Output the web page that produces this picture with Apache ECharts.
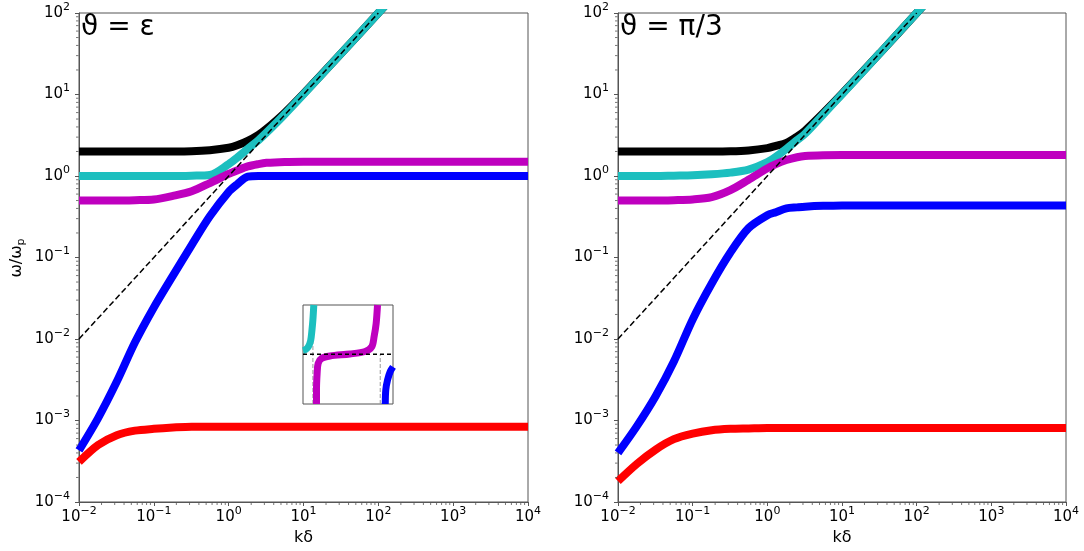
<!DOCTYPE html>
<html><head><meta charset="utf-8">
<script src="https://cdn.jsdelivr.net/npm/echarts@6.0.0/dist/echarts.min.js"></script>
<style>html,body{margin:0;padding:0;background:#fff}#c{width:1084px;height:551px}</style>
</head><body><div id="c"></div>
<script>
const FONT = 'DejaVu Sans';
// k*delta sample points (shared by all curves of the two main panels)
const K = [0.01, 0.018, 0.032, 0.056, 0.1, 0.18, 0.32, 0.56, 1, 1.3, 1.8, 2.5, 3.2, 5.6, 10, 32, 100, 1000, 10000];

// theta = epsilon (left panel), omega/omega_p
const blackL   = [2, 2, 2, 2, 2, 2, 2.01, 2.07, 2.22, 2.38, 2.7, 3.2, 3.78, 5.95, 10.2, 32, 100, 1000, 10000];
const cyanL    = [1, 1, 1, 1, 1, 1, 1.01, 1.03, 1.4, 1.68, 2.15, 2.75, 3.4, 5.7, 10.05, 32, 100, 1000, 10000];
const magentaL = [0.5, 0.5, 0.5, 0.505, 0.515, 0.57, 0.65, 0.82, 1.06, 1.17, 1.31, 1.4, 1.45, 1.49, 1.5, 1.5, 1.5, 1.5, 1.5];
const blueL    = [4.3e-4, 1.07e-3, 3.0e-3, 9.1e-3, 0.0244, 0.060, 0.142, 0.32, 0.64, 0.79, 0.98, 1, 1, 1, 1, 1, 1, 1, 1];
const redL     = [3.1e-4, 5.0e-4, 6.6e-4, 7.5e-4, 7.9e-4, 8.2e-4, 8.4e-4, 8.4e-4, 8.4e-4, 8.4e-4, 8.4e-4, 8.4e-4, 8.4e-4, 8.4e-4, 8.4e-4, 8.4e-4, 8.4e-4, 8.4e-4, 8.4e-4];

// theta = pi/3 (right panel)
const blackR   = [2, 2, 2, 2, 2, 2, 2.01, 2.06, 2.2, 2.34, 2.55, 3.05, 3.6, 5.9, 10.2, 32, 100, 1000, 10000];
const cyanR    = [1, 1, 1, 1.01, 1.02, 1.05, 1.1, 1.2, 1.48, 1.72, 2.15, 2.75, 3.3, 5.7, 10.05, 32, 100, 1000, 10000];
const magentaR = [0.5, 0.5, 0.5, 0.505, 0.515, 0.55, 0.67, 0.9, 1.24, 1.4, 1.57, 1.7, 1.76, 1.8, 1.81, 1.81, 1.81, 1.81, 1.81];
const blueR    = [4.0e-4, 8.6e-4, 2.0e-3, 5.3e-3, 0.0174, 0.048, 0.115, 0.229, 0.33, 0.36, 0.40, 0.412, 0.42, 0.43, 0.435, 0.436, 0.436, 0.436, 0.436];
const redR     = [1.8e-4, 2.95e-4, 4.4e-4, 5.9e-4, 6.9e-4, 7.6e-4, 7.9e-4, 8.0e-4, 8.1e-4, 8.1e-4, 8.1e-4, 8.1e-4, 8.1e-4, 8.1e-4, 8.1e-4, 8.1e-4, 8.1e-4, 8.1e-4, 8.1e-4];

// light-line asymptote omega = k
const asymK = [0.01, 100];
const asymW = [0.01, 100];

// inset (normalised coordinates 0..1)
const inCyanU = [0, 0.03, 0.06, 0.085, 0.1, 0.11, 0.12];
const inCyanV = [0.54, 0.55, 0.58, 0.64, 0.75, 0.85, 1.0];
const inMagU  = [0.15, 0.15, 0.157, 0.168, 0.205, 0.3, 0.52, 0.69, 0.765, 0.79, 0.813, 0.828];
const inMagV  = [0, 0.144, 0.31, 0.41, 0.46, 0.485, 0.505, 0.53, 0.58, 0.68, 0.815, 1.0];
const inBlueU = [0.914, 0.92, 0.94, 0.97, 1.0];
const inBlueV = [0, 0.144, 0.245, 0.33, 0.375];
const inHorizU = [0, 1];
const inHorizV = [0.503, 0.503];
const inVert1U = [0.11, 0.11];
const inVert1V = [0, 1];
const inVert2U = [0.858, 0.858];
const inVert2V = [0, 0.5];

// tick decoration (minor ticks of the log axes)
const minorMant = [2, 3, 4, 5, 6, 7, 8, 9];
const xDecadeStarts = [0.01, 0.1, 1, 10, 100, 1000];
const yDecadeStarts = [1e-4, 1e-3, 0.01, 0.1, 1, 10];
const titles = ['ϑ = ε', 'ϑ = π/3'];
const xName = 'kδ';

const minorX = [];
xDecadeStarts.forEach(d => minorMant.forEach(m => minorX.push(m * d)));
const minorY = [];
yDecadeStarts.forEach(d => minorMant.forEach(m => minorY.push(m * d)));

const pair = (xs, ys) => xs.map((x, i) => [x, ys[i]]);
const SPINE = '#555';

function supFmt(v) {
  const e = Math.round(Math.log10(v));
  return '{b|10}{s|' + (e < 0 ? '\u2212' + (-e) : e) + '}';
}
const tickRich = {
  b: { fontSize: 15, fontFamily: FONT, color: '#000' },
  s: { fontSize: 11, fontFamily: FONT, color: '#000', padding: [0, 0, 12, 0] }
};

const grids = [
  { left: 79, top: 13, width: 449, height: 489 },
  { left: 618, top: 13, width: 448, height: 489 },
  { left: 303, top: 305, width: 90, height: 99 }
];
grids.forEach(g => { g.show = true; g.borderColor = SPINE; g.borderWidth = 1; g.backgroundColor = 'transparent'; });

function mainX(gi) {
  return {
    type: 'log', logBase: 10, gridIndex: gi, min: 0.01, max: 10000, interval: 1,
    name: xName, nameLocation: 'middle', nameGap: 27,
    nameTextStyle: { fontSize: 16, fontFamily: FONT, color: '#000' },
    axisLine: { show: true, onZero: false, lineStyle: { color: SPINE, width: 1 } },
    axisTick: { show: true, length: 4, lineStyle: { color: SPINE } },
    axisLabel: { formatter: supFmt, rich: tickRich, margin: 4, showMinLabel: true, showMaxLabel: true },
    splitLine: { show: false }
  };
}
function mainY(gi) {
  return {
    type: 'log', logBase: 10, gridIndex: gi, min: 1e-4, max: 100, interval: 1,
    axisLine: { show: true, onZero: false, lineStyle: { color: SPINE, width: 1 } },
    axisTick: { show: true, length: 4, lineStyle: { color: SPINE } },
    axisLabel: { formatter: supFmt, rich: tickRich, margin: 9, showMinLabel: true, showMaxLabel: true },
    splitLine: { show: false }
  };
}
const insetAxis = { type: 'value', gridIndex: 2, min: 0, max: 1, show: false, axisLine: { show: false, onZero: false } };

function line(xi, yi, xs, ys, color, width, extra) {
  return Object.assign({
    type: 'line', xAxisIndex: xi, yAxisIndex: yi, data: pair(xs, ys),
    showSymbol: false, symbol: 'none', smooth: 0.3, clip: true, silent: true,
    lineStyle: { color: color, width: width, cap: 'butt' }
  }, extra || {});
}
function minorTicks(i, isX) {
  return {
    type: 'scatter', xAxisIndex: i, yAxisIndex: i, silent: true, clip: false, z: 5,
    data: isX ? minorX.map(v => [v, 1e-4]) : minorY.map(v => [0.01, v]),
    symbol: 'rect', symbolSize: isX ? [1, 2.5] : [2.5, 1], symbolOffset: isX ? [0, 1.75] : [-1.75, 0],
    itemStyle: { color: SPINE }
  };
}

const C = { k: '#000000', c: '#1cbfbf', m: '#bf00bf', b: '#0000ff', r: '#ff0000' };
const series = [];
[[0, blackL, cyanL, magentaL, blueL, redL], [1, blackR, cyanR, magentaR, blueR, redR]].forEach(p => {
  const i = p[0];
  series.push(line(i, i, K, p[1], C.k, 8));
  series.push(line(i, i, K, p[2], C.c, 8));
  series.push(line(i, i, K, p[3], C.m, 8));
  series.push(line(i, i, K, p[4], C.b, 8));
  series.push(line(i, i, K, p[5], C.r, 8));
  series.push(line(i, i, asymK, asymW, '#000', 1.5, { smooth: false, lineStyle: { color: '#000', width: 1.5, type: [6, 3] } }));
  series.push(minorTicks(i, true));
  series.push(minorTicks(i, false));
});
// inset
series.push(line(2, 2, inVert1U, inVert1V, '#999', 1, { smooth: false, lineStyle: { color: '#999', width: 1, type: [4, 2] } }));
series.push(line(2, 2, inVert2U, inVert2V, '#999', 1, { smooth: false, lineStyle: { color: '#999', width: 1, type: [4, 2] } }));
series.push(line(2, 2, inCyanU, inCyanV, C.c, 7));
series.push(line(2, 2, inMagU, inMagV, C.m, 7));
series.push(line(2, 2, inBlueU, inBlueV, C.b, 7));
series.push(line(2, 2, inHorizU, inHorizV, '#000', 1.5, { smooth: false, lineStyle: { color: '#000', width: 1.5, type: [4, 3] } }));

const option = {
  animation: false,
  backgroundColor: '#fff',
  grid: grids,
  xAxis: [mainX(0), mainX(1), insetAxis],
  yAxis: [mainY(0), mainY(1), insetAxis],
  series: series,
  graphic: [
    { type: 'text', left: 81, top: 14, z: 100, style: { text: titles[0], fontSize: 28, fontFamily: FONT, fill: '#000' } },
    { type: 'text', left: 620, top: 14, z: 100, style: { text: titles[1], fontSize: 28, fontFamily: FONT, fill: '#000' } },
    { type: 'text', x: 17, y: 258, rotation: Math.PI / 2, z: 100,
      style: { text: '{a|ω/ω}{p|p}', align: 'center', verticalAlign: 'middle',
        rich: { a: { fontSize: 16, fontFamily: FONT, fill: '#000', color: '#000' },
                p: { fontSize: 11, fontFamily: FONT, fill: '#000', color: '#000', padding: [9, 0, 0, 0] } } } }
  ]
};
const chart = echarts.init(document.getElementById('c'));
chart.setOption(option);
</script>
</body></html>
